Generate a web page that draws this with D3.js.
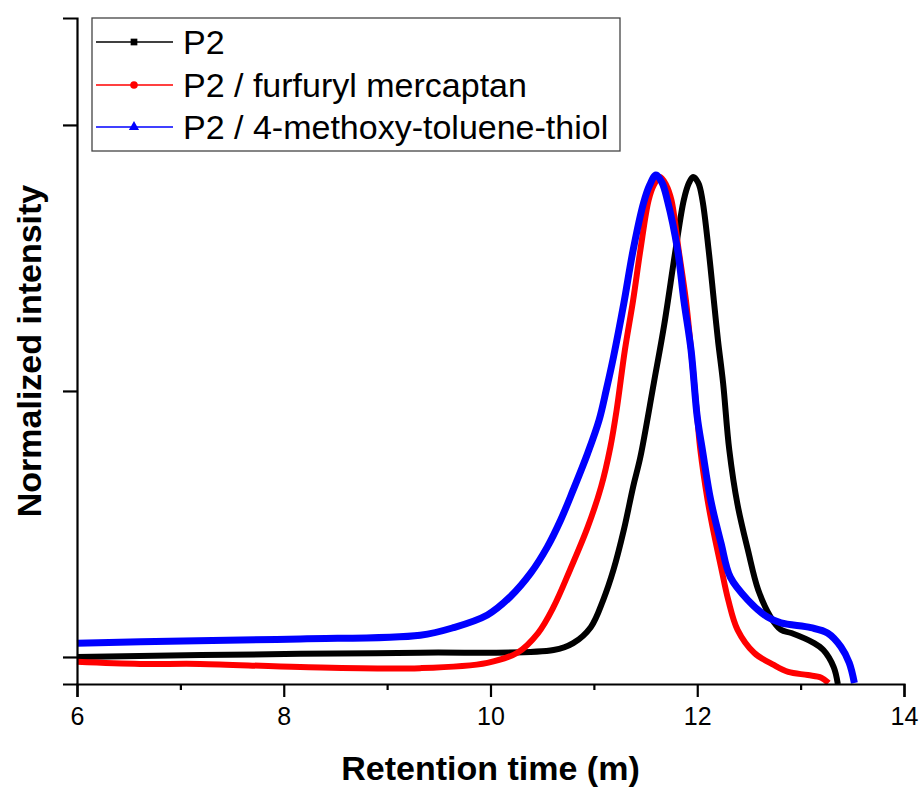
<!DOCTYPE html>
<html>
<head>
<meta charset="utf-8">
<script src="https://cdn.jsdelivr.net/npm/d3@7"></script>
<style>
  body { margin: 0; background: #fff; }
  svg { font-family: Arial, "Liberation Sans", sans-serif; }
</style>
</head>
<body>
<div id="content"></div>
<script>
// data: retention time (m) / normalized intensity
const seriesNames = ["P2", "P2 / furfuryl mercaptan", "P2 / 4-methoxy-toluene-thiol"];
const seriesColors = ["#000000", "#ff0000", "#0000ff"];
const seriesSymbols = ["square", "circle", "triangle"];

const p2Time = [6, 8.16, 9.32, 10.61, 10.8, 10.97, 11.09, 11.19, 11.29, 11.38, 11.45, 11.58, 11.68, 11.79, 11.87, 11.92, 11.96,
  12.01, 12.05, 12.11, 12.16, 12.2, 12.25, 12.31, 12.39, 12.49, 12.59, 12.71, 12.81, 12.91, 13.13, 13.22, 13.32, 13.36];
const p2Value = [0, 0.006, 0.008, 0.013, 0.026, 0.056, 0.107, 0.164, 0.239, 0.32, 0.376, 0.515, 0.624, 0.765, 0.859, 0.891, 0.902,
  0.891, 0.859, 0.765, 0.671, 0.596, 0.515, 0.389, 0.286, 0.201, 0.126, 0.075, 0.051, 0.045, 0.026, 0.013, -0.019, -0.051];

const furTime = [6, 6.61, 7.19, 8.16, 9.32, 9.97, 10.26, 10.46, 10.61, 10.77, 10.94, 11.07, 11.16, 11.22, 11.3, 11.38, 11.45, 11.53, 11.58, 11.64,
  11.7, 11.75, 11.82, 11.89, 11.94, 12.0, 12.03, 12.1, 12.16, 12.23, 12.3, 12.39, 12.55, 12.74, 12.88, 13.07, 13.2, 13.27];
const furValue = [-0.009, -0.013, -0.013, -0.019, -0.021, -0.011, 0.008, 0.045, 0.094, 0.164, 0.244, 0.32, 0.395, 0.464, 0.577, 0.671, 0.765, 0.859, 0.887, 0.902,
  0.887, 0.859, 0.765, 0.671, 0.577, 0.451, 0.389, 0.295, 0.233, 0.169, 0.107, 0.051, 0.008, -0.015, -0.028, -0.034, -0.039, -0.049];

const metTime = [6, 7.03, 8.16, 9.32, 9.64, 9.97, 10.19, 10.39, 10.55, 10.68, 10.8, 10.94, 11.05, 11.12, 11.19, 11.29, 11.38, 11.48, 11.54, 11.6,
  11.66, 11.71, 11.81, 11.87, 11.94, 12.0, 12.05, 12.13, 12.23, 12.32, 12.49, 12.68, 12.81, 13.1, 13.26, 13.39, 13.47, 13.52];
const metValue = [0.026, 0.03, 0.034, 0.041, 0.055, 0.079, 0.113, 0.158, 0.207, 0.258, 0.314, 0.383, 0.445, 0.502, 0.564, 0.665, 0.765, 0.853, 0.887, 0.906,
  0.891, 0.859, 0.765, 0.671, 0.577, 0.451, 0.389, 0.295, 0.214, 0.15, 0.107, 0.075, 0.064, 0.055, 0.045, 0.019, -0.011, -0.049];

const xMajorTicks = [6, 8, 10, 12, 14];
const xMinorTicks = [7, 9, 11, 13];
const yTicks = [0, 0.5, 1];

const series = [
  { time: p2Time, value: p2Value },
  { time: furTime, value: furValue },
  { time: metTime, value: metValue },
];

const width = 923, height = 789;
const margin = { left: 77, right: 19, top: 18, bottom: 105 };

const svg = d3.select("#content").append("svg")
  .attr("width", width).attr("height", height);

const x = d3.scaleLinear().domain([6, 14]).range([margin.left, width - margin.right]);
const y = d3.scaleLinear().domain([-0.0508, 1.201]).range([height - margin.bottom, margin.top]);

// curves
const line = d3.line()
  .x(d => x(d[0]))
  .y(d => y(d[1]))
  .curve(d3.curveCatmullRom.alpha(0.5));

const widths = [6, 6, 7];
series.forEach((s, i) => {
  svg.append("path")
    .datum(d3.zip(s.time, s.value))
    .attr("fill", "none")
    .attr("stroke", seriesColors[i])
    .attr("stroke-width", widths[i])
    .attr("stroke-linejoin", "round")
    .attr("d", line);
});

// axes
const xAxis = svg.append("g")
  .attr("transform", `translate(0,${height - margin.bottom})`)
  .call(d3.axisBottom(x).tickValues(xMajorTicks).tickSize(13).tickPadding(10).tickFormat(d3.format("d")));
svg.append("g")
  .attr("transform", `translate(0,${height - margin.bottom})`)
  .call(d3.axisBottom(x).tickValues(xMinorTicks).tickSize(6).tickFormat(""))
  .call(g => g.select(".domain").remove());

const yAxis = svg.append("g")
  .attr("transform", `translate(${margin.left},0)`)
  .call(d3.axisLeft(y).tickValues(yTicks).tickSize(14).tickFormat(""));

svg.selectAll(".domain").attr("stroke", "#000").attr("stroke-width", 2.2);
svg.selectAll(".tick line").attr("stroke", "#000").attr("stroke-width", 2.2);
xAxis.selectAll(".tick text")
  .attr("font-size", 25)
  .attr("fill", "#000")
  .attr("font-family", "Arial, 'Liberation Sans', sans-serif");

// axis titles
svg.append("text")
  .attr("x", (margin.left + width - margin.right) / 2)
  .attr("y", 780)
  .attr("text-anchor", "middle")
  .attr("font-size", 34)
  .attr("font-weight", "bold")
  .text("Retention time (m)");

svg.append("text")
  .attr("transform", `translate(41,${(margin.top + height - margin.bottom) / 2}) rotate(-90)`)
  .attr("text-anchor", "middle")
  .attr("font-size", 34)
  .attr("font-weight", "bold")
  .text("Normalized intensity");

// legend
const legend = svg.append("g");
legend.append("rect")
  .attr("x", 92).attr("y", 18)
  .attr("width", 528).attr("height", 133)
  .attr("fill", "#fff")
  .attr("stroke", "#444")
  .attr("stroke-width", 1.3);

const rowY = [42, 85, 127];
const symbolTypes = { square: d3.symbolSquare, circle: d3.symbolCircle, triangle: d3.symbolTriangle };
seriesNames.forEach((name, i) => {
  const g = legend.append("g").attr("transform", `translate(0,${rowY[i]})`);
  g.append("line")
    .attr("x1", 96).attr("x2", 173)
    .attr("stroke", seriesColors[i]).attr("stroke-width", 1.5);
  g.append("path")
    .attr("transform", "translate(134,0)")
    .attr("d", d3.symbol().type(symbolTypes[seriesSymbols[i]]).size(45)())
    .attr("fill", seriesColors[i]);
  g.append("text")
    .attr("x", 183).attr("y", 12)
    .attr("font-size", 34)
    .attr("fill", "#000")
    .text(name);
});
</script>
</body>
</html>
